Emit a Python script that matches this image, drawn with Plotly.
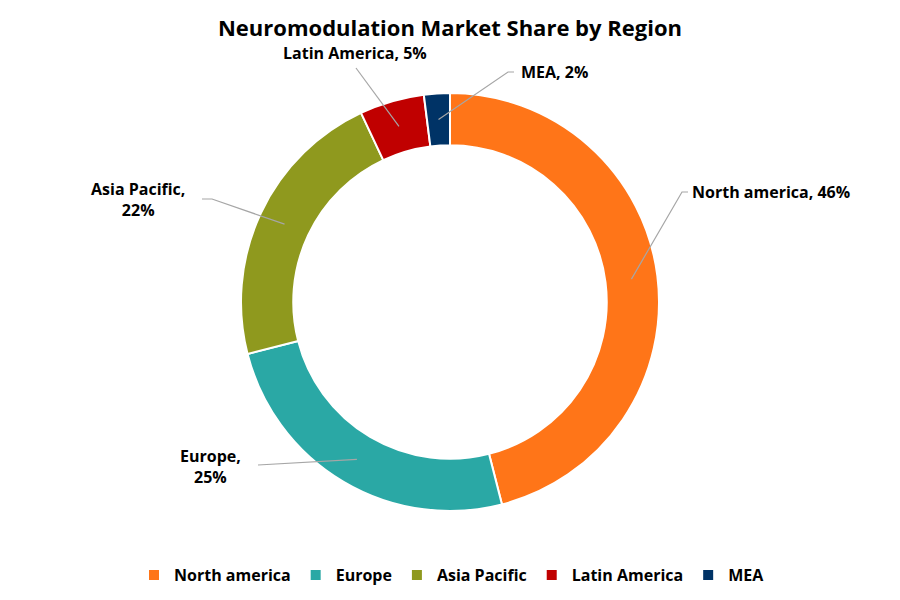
import math
import plotly.graph_objects as go

# ---- data ----
regions = ["North america", "Europe", "Asia Pacific", "Latin America", "MEA"]
shares = [46, 25, 22, 5, 2]
colors = ["#FF7518", "#2AA8A5", "#8F991E", "#C00000", "#003366"]
title_text = "Neuromodulation Market Share by Region"

# ---- layout geometry (pixels in the 900x600 screenshot) ----
W, H = 900, 600
OFF = 8  # page body margin in the browser
cx, cy = 450, 302
R_out = 209
hole = 0.75
R_mid = R_out * (1 + hole) / 2

# label placement: elbow point, end point, text anchor, text, xanchor
label_layout = {
    "North america": dict(elbow=(682, 192), end=(688, 192), text=(690, 192), xanchor="left",
                          fmt="{n}, {v}%"),
    "Europe": dict(elbow=(258, 465), end=(258, 465), text=(210, 466), xanchor="center",
                   fmt="{n},<br>{v}%"),
    "Asia Pacific": dict(elbow=(212, 199), end=(202, 199), text=(138, 199), xanchor="center",
                         fmt="{n},<br>{v}%"),
    "Latin America": dict(elbow=(356, 68), end=(356, 68), text=(355, 53), xanchor="center",
                          fmt="{n}, {v}%"),
    "MEA": dict(elbow=(508, 72), end=(514, 72), text=(519, 72), xanchor="left",
                fmt="{n}, {v}%"),
}

def px(x):
    return (x - OFF) / W

def py(y):
    return 1 - (y - OFF) / H

FONT = "'Open Sans', Lato, Arial, sans-serif"

fig = go.Figure(go.Pie(
    labels=regions,
    values=shares,
    hole=hole,
    sort=False,
    direction="clockwise",
    rotation=0,
    marker=dict(colors=colors, line=dict(color="white", width=2)),
    textinfo="none",
    hoverinfo="label+percent",
    domain=dict(x=[px(cx - R_out), px(cx + R_out)],
                y=[py(cy + R_out), py(cy - R_out)]),
))

shapes = []
annotations = []
total = sum(shares)
cum = 0
for name, val in zip(regions, shares):
    mid = (cum + val / 2) / total * 2 * math.pi
    cum += val
    sx = cx + R_mid * math.sin(mid)
    sy = cy - R_mid * math.cos(mid)
    L = label_layout[name]
    ex, ey = L["elbow"]
    fx, fy = L["end"]
    shapes.append(dict(type="path", xref="paper", yref="paper",
                       path=f"M {px(sx)} {py(sy)} L {px(ex)} {py(ey)} L {px(fx)} {py(fy)}",
                       line=dict(color="#A6A6A6", width=1.2)))
    tx, ty = L["text"]
    annotations.append(dict(x=px(tx), y=py(ty), xref="paper", yref="paper",
                            text=L["fmt"].format(n=name, v=val),
                            showarrow=False, xanchor=L["xanchor"], yanchor="middle",
                            align="center",
                            font=dict(family=FONT, size=16, color="#000000", weight="bold")))

fig.update_layout(
    width=W, height=H,
    margin=dict(l=0, r=0, t=0, b=0),
    paper_bgcolor="white",
    plot_bgcolor="white",
    title=dict(text=title_text, x=px(450), xanchor="center",
               y=py(28), yanchor="middle",
               font=dict(family=FONT, size=22, color="#000000", weight="bold")),
    showlegend=True,
    legend=dict(orientation="h", x=px(452), xanchor="center", y=py(575), yanchor="middle",
                font=dict(family=FONT, size=16, color="#000000", weight="bold"),
                itemwidth=30, traceorder="normal"),
    shapes=shapes,
    annotations=annotations,
)

fig.write_html("out.html")
